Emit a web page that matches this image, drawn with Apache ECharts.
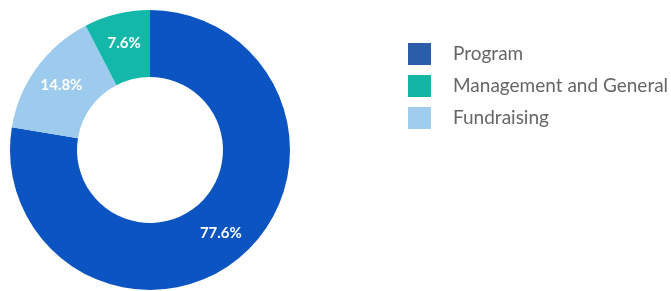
<!DOCTYPE html>
<html>
<head>
<meta charset="utf-8">
<script src="https://cdn.jsdelivr.net/npm/echarts@6/dist/echarts.min.js"></script>
<style>
  html, body { margin: 0; padding: 0; background: #fff; }
</style>
</head>
<body>
<div id="main" style="width:671px;height:291px;"></div>
<script type="text/javascript">
	// data
	var categories = ['Program', 'Fundraising', 'Management and General'];
	var shares = [77.6, 14.8, 7.6];
	var legendOrder = ['Program', 'Management and General', 'Fundraising'];

	var sliceColors = {
		'Program': '#0b54c2',
		'Fundraising': '#9dcbee',
		'Management and General': '#13b8aa'
	};
	var swatchColors = {
		'Program': '#2a5ea8',
		'Fundraising': '#a0cdee',
		'Management and General': '#13b5a5'
	};

	var pieData = [];
	for (var i = 0; i < categories.length; i++) {
		pieData.push({
			name: categories[i],
			value: shares[i],
			itemStyle: { color: sliceColors[categories[i]] }
		});
	}

	var legendData = legendOrder.map(function (n) {
		return { name: n, itemStyle: { color: swatchColors[n] } };
	});

	var myChart = echarts.init(document.getElementById('main'));
	var option = {
		animation: false,
		legend: {
			orient: 'vertical',
			left: 403,
			top: 38,
			itemWidth: 23,
			itemHeight: 22,
			itemGap: 10,
			icon: 'rect',
			data: legendData,
			textStyle: {
				fontFamily: 'Lato',
				fontSize: 19,
				color: '#666',
				padding: [0, 0, 0, 17]
			}
		},
		series: [
			{
				type: 'pie',
				center: [150, 150],
				radius: [73, 140],
				startAngle: 90,
				clockwise: true,
				silent: true,
				data: pieData,
				label: {
					show: true,
					position: 'inside',
					formatter: function (p) { return p.value.toFixed(1) + '%'; },
					color: '#fff',
					fontFamily: 'Lato',
					fontWeight: 'bold',
					fontSize: 15
				},
				labelLine: { show: false }
			}
		]
	};
	myChart.setOption(option);
</script>
</body>
</html>
